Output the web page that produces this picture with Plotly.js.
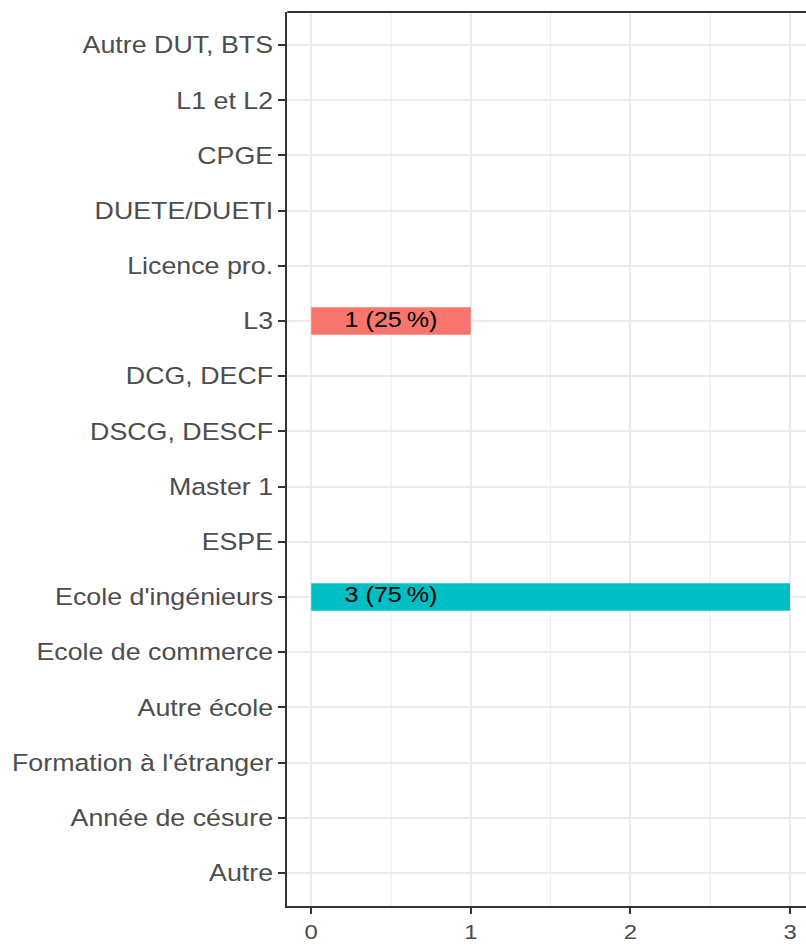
<!DOCTYPE html>
<html>
<head>
<meta charset="utf-8">
<script src="https://cdn.plot.ly/plotly-3.0.1.min.js"></script>
<style>
html,body{margin:0;padding:0;background:#fff;overflow:hidden;}
#chart{transform:scaleX(1.14);transform-origin:0 0;}
</style>
</head>
<body>
<div id="chart" style="width:707px;height:952px;"></div>
<script>
const categories = ["Autre DUT, BTS","L1 et L2","CPGE","DUETE/DUETI","Licence pro.","L3","DCG, DECF","DSCG, DESCF","Master 1","ESPE","Ecole d'ingénieurs","Ecole de commerce","Autre école","Formation à l'étranger","Année de césure","Autre"];
const counts = [0,0,0,0,0,1,0,0,0,0,3,0,0,0,0,0];
const barColors = {"L3":"#F8766D","Ecole d'ingénieurs":"#00BFC4"};
const xTicks = [0,1,2,3];

const total = counts.reduce((a,b)=>a+b,0);
const nz = categories.map((c,i)=>i).filter(i=>counts[i]>0);
const FONT = '"Liberation Sans", Arial, sans-serif';

const bars = {
  type:'bar', orientation:'h',
  y: nz.map(i=>categories[i]), x: nz.map(i=>counts[i]),
  width: 0.5,
  marker:{color: nz.map(i=>barColors[categories[i]]), line:{width:0}},
  hoverinfo:'skip', showlegend:false
};
const labels = {
  type:'scatter', mode:'text',
  y: nz.map(i=>categories[i]), x: nz.map(()=>0.5),
  text: nz.map(i=>counts[i]+" ("+Math.round(counts[i]/total*100)+"\u202F%)"),
  textfont:{family:FONT, size:22, color:'#000'},
  textposition:'middle center', hoverinfo:'skip', showlegend:false
};
const cats = {
  type:'scatter', mode:'markers', y: categories, x: categories.map(()=>0),
  marker:{opacity:0}, hoverinfo:'skip', showlegend:false
};

const layout = {
  width:707, height:952,
  margin:{l:252, r:0, t:12, b:46, pad:0},
  paper_bgcolor:'#fff', plot_bgcolor:'#fff',
  font:{family:FONT, size:22, color:'#4D4D4D'},
  xaxis:{
    range:[-0.15,3.1], tickvals:xTicks, ticktext:xTicks.map(String),
    showgrid:true, gridcolor:'#EBEBEB', gridwidth:1.75,
    minor:{dtick:0.5, tick0:0, showgrid:true, gridcolor:'#EBEBEB', gridwidth:0.9},
    zeroline:false, showline:true, linecolor:'#333', linewidth:2,
    ticks:'outside', ticklen:6, tickwidth:1.75, tickcolor:'#333',
    tickfont:{size:21, color:'#4D4D4D'}, fixedrange:true
  },
  yaxis:{
    type:'category', categoryorder:'array', categoryarray:categories,
    range:[15.6,-0.6],
    showgrid:true, gridcolor:'#EBEBEB', gridwidth:2,
    zeroline:false, showline:true, linecolor:'#333', linewidth:1.75,
    ticks:'outside', ticklen:6, tickwidth:2, tickcolor:'#333',
    tickfont:{size:23.5, color:'#4D4D4D'}, fixedrange:true
  },
  shapes:[{type:'line', xref:'paper', yref:'paper', x0:0, x1:1, y0:1, y1:1, line:{color:'#333', width:2}}]
};
Plotly.newPlot('chart',[cats,bars,labels],layout,{displayModeBar:false, staticPlot:true});
</script>
</body>
</html>
